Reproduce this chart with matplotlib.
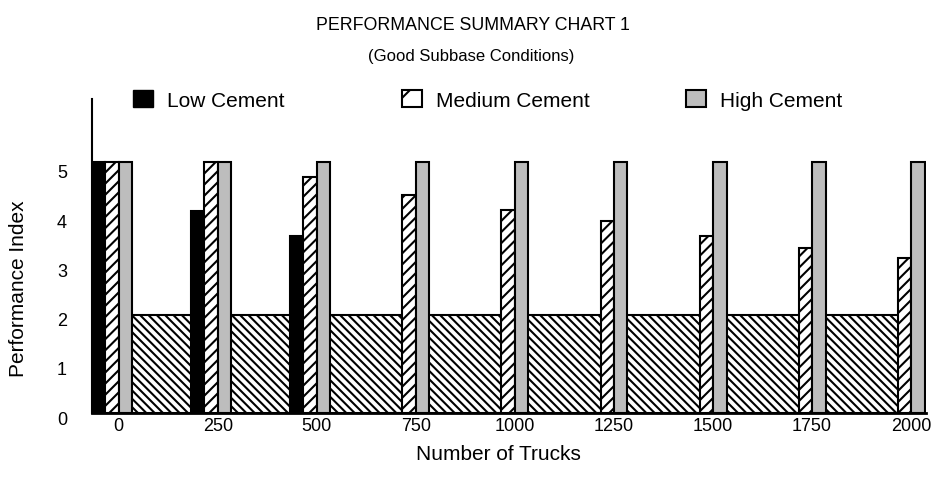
import numpy as np
import matplotlib.pyplot as plt
import matplotlib.transforms as mtransforms
from matplotlib.patches import Patch

plt.rcParams['font.family'] = ['Liberation Sans', 'DejaVu Sans']
plt.rcParams['hatch.linewidth'] = 1.5

# data
trucks = ['0', '250', '500', '750', '1000', '1250', '1500', '1750', '2000']
low_cement = [5.1, 4.1, 3.6, 0, 0, 0, 0, 0, 0]
medium_cement = [5.1, 5.1, 4.8, 4.42, 4.12, 3.9, 3.6, 3.36, 3.14]
high_cement = [5.1, 5.1, 5.1, 5.1, 5.1, 5.1, 5.1, 5.1, 5.1]
failure_level = 2.0

x = np.arange(len(trucks))
w = 0.136
gray = '#bdbdbd'

fig = plt.figure(figsize=(9.35, 4.89), dpi=100)
ax = fig.add_axes([0.0984, 0.153, 0.892, 0.642])

# hatched band under the failure level
ax.axhspan(0, failure_level, facecolor='white', edgecolor='black',
           hatch='\\\\\\\\', linewidth=1.5, zorder=1)

ax.bar(x - 1.5 * w, low_cement, w, color='black', edgecolor='black',
       linewidth=1.5, zorder=2)
ax.bar(x - 0.5 * w, medium_cement, w, color='white', edgecolor='black',
       hatch='///', linewidth=1.5, zorder=2)
ax.bar(x + 0.5 * w, high_cement, w, color=gray, edgecolor='black',
       linewidth=1.5, zorder=2)

ax.set_xlim(-0.27, 8.15)
ax.set_ylim(0, 6.37)
ax.set_xticks(x)
ax.set_xticklabels(trucks)
ax.set_yticks([0, 1, 2, 3, 4, 5])
ax.tick_params(length=0, labelsize=13)
ax.tick_params(axis='y', pad=18)
ax.tick_params(axis='x', pad=3)
shift = mtransforms.ScaledTranslation(0, -0.04, fig.dpi_scale_trans)
for lbl in ax.get_yticklabels():
    lbl.set_transform(lbl.get_transform() + shift)
ax.spines['top'].set_visible(False)
ax.spines['right'].set_visible(False)
ax.spines['left'].set_linewidth(1.5)
ax.spines['bottom'].set_linewidth(2)

ax.set_xlabel('Number of Trucks', fontsize=15)
ax.set_ylabel('Performance Index', fontsize=15)
ax.xaxis.set_label_coords(0.487, -0.097)
ax.yaxis.set_label_coords(-0.077, 0.40)

fig.text(0.506, 0.948, 'PERFORMANCE SUMMARY CHART 1', ha='center', va='center', fontsize=12.8)
fig.text(0.504, 0.885, '(Good Subbase Conditions)', ha='center', va='center', fontsize=12)

handles = [
    Patch(facecolor='black', edgecolor='black', label='Low Cement'),
    Patch(facecolor='white', edgecolor='black', hatch='/', linewidth=1.5, label='Medium Cement'),
    Patch(facecolor=gray, edgecolor='black', linewidth=1.5, label='High Cement'),
]
legend_x = [133 / 935, 402 / 935, 686 / 935]
for h, lx in zip(handles, legend_x):
    fig.legend(handles=[h], loc='center left', bbox_to_anchor=(lx, 1 - 101 / 489),
               frameon=False, fontsize=15, handlelength=0.95, handleheight=0.85,
               handletextpad=0.7, borderpad=0, borderaxespad=0)

fig.savefig('out.png', dpi=100)
